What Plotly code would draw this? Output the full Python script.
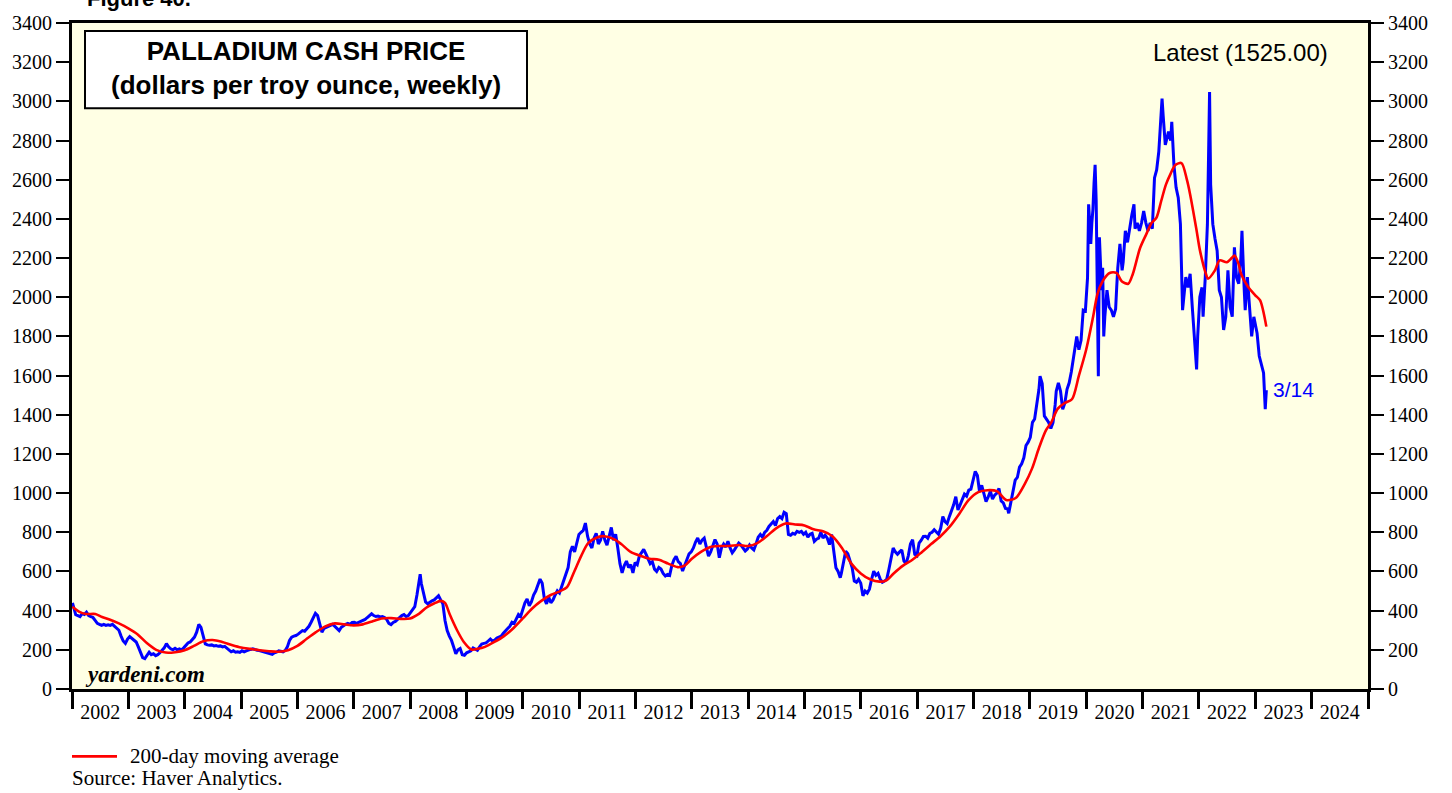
import plotly.graph_objects as go

# ---------------- data ----------------
price_dates = [
"2002-01-04","2002-01-11","2002-01-25","2002-02-08","2002-02-22","2002-03-08","2002-03-22","2002-04-05","2002-04-19","2002-05-03",
"2002-05-17","2002-05-31","2002-06-14","2002-06-28","2002-07-12","2002-07-26","2002-08-09","2002-08-23","2002-09-06","2002-09-20",
"2002-10-04","2002-10-18","2002-11-01","2002-11-15","2002-11-29","2002-12-13","2002-12-27","2003-01-10","2003-01-24","2003-02-07",
"2003-02-21","2003-03-07","2003-03-21","2003-04-04","2003-04-18","2003-05-02","2003-05-16","2003-05-30","2003-06-13","2003-06-27",
"2003-07-11","2003-07-25","2003-08-08","2003-08-22","2003-09-05","2003-09-19","2003-10-03","2003-10-17","2003-10-31","2003-11-14",
"2003-11-28","2003-12-12","2003-12-26","2004-01-09","2004-01-23","2004-02-06","2004-02-20","2004-03-05","2004-03-19","2004-04-02",
"2004-04-16","2004-04-30","2004-05-14","2004-05-28","2004-06-11","2004-06-25","2004-07-09","2004-07-23","2004-08-06","2004-08-20",
"2004-09-03","2004-09-17","2004-10-01","2004-10-15","2004-10-29","2004-11-12","2004-11-26","2004-12-10","2004-12-24","2005-01-07",
"2005-01-21","2005-02-04","2005-02-18","2005-03-04","2005-03-18","2005-04-01","2005-04-15","2005-04-29","2005-05-13","2005-05-27",
"2005-06-10","2005-06-24","2005-07-08","2005-07-22","2005-08-05","2005-08-19","2005-09-02","2005-09-16","2005-09-30","2005-10-14",
"2005-10-28","2005-11-11","2005-11-25","2005-12-09","2005-12-23","2006-01-06","2006-01-20","2006-02-03","2006-02-17","2006-03-03",
"2006-03-17","2006-03-31","2006-04-14","2006-04-28","2006-05-12","2006-05-26","2006-06-09","2006-06-23","2006-07-07","2006-07-21",
"2006-08-04","2006-08-18","2006-09-01","2006-09-15","2006-09-29","2006-10-13","2006-10-27","2006-11-10","2006-11-24","2006-12-08",
"2006-12-22","2007-01-05","2007-01-19","2007-02-02","2007-02-16","2007-03-02","2007-03-16","2007-03-30","2007-04-13","2007-04-27",
"2007-05-11","2007-05-25","2007-06-08","2007-06-22","2007-07-06","2007-07-20","2007-08-03","2007-08-17","2007-08-31","2007-09-14",
"2007-09-28","2007-10-12","2007-10-26","2007-11-09","2007-11-23","2007-12-07","2007-12-21","2008-01-04","2008-01-18","2008-02-01",
"2008-02-15","2008-02-29","2008-03-07","2008-03-14","2008-03-28","2008-04-11","2008-04-25","2008-05-09","2008-05-23","2008-06-06",
"2008-06-20","2008-07-04","2008-07-18","2008-08-01","2008-08-15","2008-08-29","2008-09-12","2008-09-26","2008-10-10","2008-10-24",
"2008-11-07","2008-11-21","2008-12-05","2008-12-19","2009-01-02","2009-01-16","2009-01-30","2009-02-13","2009-02-27","2009-03-13",
"2009-03-27","2009-04-10","2009-04-24","2009-05-08","2009-05-22","2009-06-05","2009-06-19","2009-07-03","2009-07-17","2009-07-31",
"2009-08-14","2009-08-28","2009-09-11","2009-09-25","2009-10-09","2009-10-23","2009-11-06","2009-11-20","2009-12-04","2009-12-18",
"2010-01-01","2010-01-15","2010-01-29","2010-02-12","2010-02-26","2010-03-12","2010-03-26","2010-04-09","2010-04-23","2010-05-07",
"2010-05-21","2010-06-04","2010-06-18","2010-07-02","2010-07-16","2010-07-30","2010-08-13","2010-08-27","2010-09-10","2010-09-24",
"2010-10-08","2010-10-22","2010-11-05","2010-11-19","2010-12-03","2010-12-17","2010-12-31","2011-01-14","2011-01-28","2011-02-11",
"2011-02-25","2011-03-11","2011-03-25","2011-04-08","2011-04-22","2011-05-06","2011-05-20","2011-06-03","2011-06-17","2011-07-01",
"2011-07-15","2011-07-29","2011-08-12","2011-08-26","2011-09-09","2011-09-23","2011-10-07","2011-10-21","2011-11-04","2011-11-18",
"2011-12-02","2011-12-16","2011-12-30","2012-01-13","2012-01-27","2012-02-10","2012-02-24","2012-03-09","2012-03-23","2012-04-06",
"2012-04-20","2012-05-04","2012-05-18","2012-06-01","2012-06-15","2012-06-29","2012-07-13","2012-07-27","2012-08-10","2012-08-24",
"2012-09-07","2012-09-21","2012-10-05","2012-10-19","2012-11-02","2012-11-16","2012-11-30","2012-12-14","2012-12-28","2013-01-11",
"2013-01-25","2013-02-08","2013-02-22","2013-03-08","2013-03-22","2013-04-05","2013-04-19","2013-05-03","2013-05-17","2013-05-31",
"2013-06-14","2013-06-28","2013-07-12","2013-07-26","2013-08-09","2013-08-23","2013-09-06","2013-09-20","2013-10-04","2013-10-18",
"2013-11-01","2013-11-15","2013-11-29","2013-12-13","2013-12-27","2014-01-10","2014-01-24","2014-02-07","2014-02-21","2014-03-07",
"2014-03-21","2014-04-04","2014-04-18","2014-05-02","2014-05-16","2014-05-30","2014-06-13","2014-06-27","2014-07-11","2014-07-25",
"2014-08-08","2014-08-22","2014-09-05","2014-09-19","2014-10-03","2014-10-17","2014-10-31","2014-11-14","2014-11-28","2014-12-12",
"2014-12-26","2015-01-09","2015-01-23","2015-02-06","2015-02-20","2015-03-06","2015-03-20","2015-04-03","2015-04-17","2015-05-01",
"2015-05-15","2015-05-29","2015-06-12","2015-06-26","2015-07-10","2015-07-24","2015-08-07","2015-08-21","2015-08-28","2015-09-04",
"2015-09-11","2015-09-25","2015-10-09","2015-10-23","2015-11-06","2015-11-20","2015-12-04","2015-12-18","2016-01-01","2016-01-15",
"2016-01-29","2016-02-12","2016-02-26","2016-03-11","2016-03-25","2016-04-08","2016-04-22","2016-05-06","2016-05-20","2016-06-03",
"2016-06-17","2016-07-01","2016-07-15","2016-07-29","2016-08-12","2016-08-26","2016-09-09","2016-09-23","2016-10-07","2016-10-21",
"2016-11-04","2016-11-18","2016-12-02","2016-12-16","2016-12-30","2017-01-13","2017-01-27","2017-02-10","2017-02-24","2017-03-10",
"2017-03-24","2017-04-07","2017-04-21","2017-05-05","2017-05-19","2017-06-02","2017-06-16","2017-06-30","2017-07-14","2017-07-28",
"2017-08-11","2017-08-25","2017-09-08","2017-09-22","2017-10-06","2017-10-20","2017-11-03","2017-11-17","2017-12-01","2017-12-15",
"2017-12-29","2018-01-12","2018-01-26","2018-02-09","2018-02-23","2018-03-09","2018-03-23","2018-04-06","2018-04-20","2018-05-04",
"2018-05-18","2018-06-01","2018-06-15","2018-06-29","2018-07-13","2018-07-27","2018-08-10","2018-08-17","2018-08-31","2018-09-14",
"2018-09-28","2018-10-12","2018-10-26","2018-11-09","2018-11-23","2018-12-07","2018-12-21","2019-01-04","2019-01-18","2019-02-01",
"2019-02-15","2019-03-01","2019-03-08","2019-03-22","2019-04-05","2019-04-19","2019-05-03","2019-05-17","2019-05-31","2019-06-14",
"2019-06-21","2019-07-05","2019-07-19","2019-08-02","2019-08-16","2019-08-30","2019-09-13","2019-09-27","2019-10-11","2019-10-25",
"2019-11-01","2019-11-15","2019-11-29","2019-12-13","2019-12-27","2020-01-10","2020-01-17","2020-01-24","2020-01-31","2020-02-07",
"2020-02-14","2020-02-21","2020-02-28","2020-03-06","2020-03-13","2020-03-20","2020-03-27","2020-04-03","2020-04-10","2020-04-17",
"2020-04-24","2020-05-01","2020-05-15","2020-05-29","2020-06-12","2020-06-26","2020-07-10","2020-07-17","2020-07-24","2020-08-07",
"2020-08-21","2020-08-28","2020-09-11","2020-09-25","2020-10-09","2020-10-23","2020-11-06","2020-11-13","2020-11-27","2020-12-11",
"2020-12-25","2021-01-08","2021-01-22","2021-02-05","2021-02-19","2021-03-05","2021-03-19","2021-04-02","2021-04-16","2021-04-30",
"2021-05-07","2021-05-14","2021-05-28","2021-06-04","2021-06-18","2021-07-02","2021-07-09","2021-07-23","2021-08-06","2021-08-20",
"2021-09-03","2021-09-17","2021-09-24","2021-10-08","2021-10-22","2021-11-05","2021-11-19","2021-12-03","2021-12-17","2021-12-24",
"2022-01-07","2022-01-21","2022-01-28","2022-02-11","2022-02-25","2022-03-04","2022-03-11","2022-03-18","2022-04-01","2022-04-15",
"2022-04-29","2022-05-13","2022-05-27","2022-06-10","2022-06-24","2022-07-08","2022-07-22","2022-08-05","2022-08-19","2022-09-02",
"2022-09-16","2022-09-30","2022-10-07","2022-10-21","2022-10-28","2022-11-11","2022-11-25","2022-12-09","2022-12-23","2023-01-13",
"2023-01-27","2023-02-10","2023-02-24","2023-03-07","2023-03-14",
]
price_values = [
440,420,380,375,370,385,380,392,375,370,
365,350,335,330,325,330,325,328,325,330,
320,315,300,270,245,233,255,268,260,250,
240,215,185,160,155,170,188,175,180,170,
175,185,200,210,232,215,205,200,208,200,
205,200,210,225,235,240,250,265,290,330,
315,265,230,225,223,225,220,222,218,220,
215,218,210,200,190,195,188,190,187,195,
190,195,200,202,205,200,198,196,193,190,
187,185,180,177,185,188,195,192,190,197,
215,248,265,270,273,280,290,298,295,305,
320,341,365,386,375,330,290,310,315,320,
324,330,320,310,298,315,325,330,335,330,
340,341,335,340,345,350,355,365,375,384,
375,370,372,368,370,365,355,335,329,340,
345,355,370,375,380,370,375,390,400,420,
480,545,586,540,485,445,435,445,450,455,
467,476,455,435,350,298,270,248,214,180,
200,207,175,172,185,189,195,210,205,198,
215,230,233,235,245,255,245,250,260,265,
270,285,300,309,320,341,335,360,380,370,
410,440,460,425,445,480,500,530,561,540,
460,435,470,440,455,480,501,490,520,560,
586,620,700,729,700,750,789,800,810,847,
780,740,720,770,795,740,760,805,760,735,
780,825,760,790,720,640,593,630,653,620,
635,593,645,635,680,700,713,690,665,640,
650,612,600,620,612,590,577,585,580,630,
660,678,650,640,602,630,665,690,700,720,
750,771,740,760,770,720,678,700,730,763,
740,670,720,740,725,754,720,695,710,730,
745,735,720,705,715,735,720,710,740,775,
789,775,800,810,830,840,855,835,870,880,
870,902,895,789,785,795,790,805,800,805,
790,800,775,790,795,754,765,770,800,771,
785,770,737,789,688,619,600,568,590,620,
660,703,690,660,620,551,545,560,540,476,
500,490,510,560,602,580,590,561,545,551,
560,610,660,720,700,688,700,710,653,640,
680,740,762,687,680,745,760,779,780,770,
795,800,813,800,790,820,880,855,845,880,
910,940,982,914,940,970,995,985,1015,1020,
1060,1111,1090,1007,1040,990,956,980,1010,970,
990,1000,1024,960,950,922,920,897,960,1020,
1066,1080,1133,1150,1180,1243,1260,1285,1361,1378,
1450,1530,1597,1560,1394,1380,1361,1330,1360,1450,
1520,1563,1520,1428,1460,1530,1563,1620,1698,1760,
1800,1732,1780,1934,1930,2100,2474,2380,2272,2380,
2450,2580,2676,2491,1900,1597,2306,2200,2036,2150,
1800,1900,2036,1950,1934,1900,1940,2050,2150,2272,
2137,2180,2339,2280,2356,2420,2474,2350,2380,2339,
2380,2440,2380,2339,2380,2350,2609,2650,2744,2900,
3014,2930,2778,2800,2845,2800,2896,2676,2560,2508,
2373,1934,2000,2103,2050,2120,1950,1766,1631,1800,
2002,2050,1901,2100,2373,2700,3048,2575,2373,2300,
2238,2036,2000,1833,1900,2137,1950,1901,2255,2100,
2069,2200,2339,2050,1934,2103,1950,1800,1900,1816,
1700,1648,1614,1428,1525,
]

ma_dates = [
"2002-01-04","2002-02-15","2002-04-01","2002-06-01","2002-07-15","2002-09-01","2002-11-01","2003-01-01","2003-03-01","2003-05-01",
"2003-07-01","2003-09-01","2003-11-01","2004-01-01","2004-03-01","2004-05-01","2004-07-01","2004-09-01","2004-11-01","2005-01-01",
"2005-03-01","2005-05-01","2005-07-01","2005-09-01","2005-11-01","2006-01-01","2006-03-01","2006-05-01","2006-07-01","2006-09-01",
"2006-11-01","2007-01-01","2007-03-01","2007-05-01","2007-07-01","2007-09-01","2007-11-01","2008-01-01","2008-03-01","2008-04-15",
"2008-06-01","2008-07-20","2008-08-15","2008-09-15","2008-11-01","2008-12-15","2009-02-01","2009-03-15","2009-05-01","2009-07-01",
"2009-09-01","2009-11-01","2010-01-01","2010-03-01","2010-05-01","2010-07-01","2010-09-01","2010-10-15","2010-12-01","2011-01-15",
"2011-03-01","2011-05-01","2011-06-15","2011-08-15","2011-10-01","2011-12-01","2012-02-01","2012-04-01","2012-06-01","2012-08-01",
"2012-10-01","2012-11-15","2013-01-01","2013-03-01","2013-05-01","2013-07-01","2013-09-01","2013-11-01","2014-01-01","2014-03-01",
"2014-05-01","2014-07-01","2014-09-01","2014-11-01","2015-01-01","2015-03-01","2015-05-01","2015-07-01","2015-09-01","2015-11-01",
"2016-01-01","2016-03-01","2016-05-01","2016-06-15","2016-08-01","2016-10-01","2016-12-01","2017-02-01","2017-04-01","2017-06-01",
"2017-08-01","2017-10-01","2017-12-01","2018-02-01","2018-04-01","2018-06-01","2018-08-01","2018-10-01","2018-12-01","2019-01-15",
"2019-03-01","2019-04-15","2019-05-20","2019-06-30","2019-08-15","2019-10-01","2019-11-15","2020-01-01","2020-02-15","2020-03-15",
"2020-04-20","2020-06-01","2020-07-15","2020-08-20","2020-09-30","2020-10-30","2020-12-15","2021-01-25","2021-03-01","2021-04-01",
"2021-05-01","2021-06-01","2021-07-01","2021-08-01","2021-09-10","2021-10-15","2021-11-05","2021-12-15","2022-01-08","2022-02-15",
"2022-03-01","2022-04-15","2022-05-15","2022-07-01","2022-08-01","2022-08-20","2022-09-15","2022-10-01","2022-11-15","2023-01-01",
"2023-02-01","2023-03-14",
]
ma_values = [
420,395,383,383,368,355,335,310,280,235,
200,186,188,198,220,244,250,240,225,212,
205,198,193,190,198,220,255,290,320,335,
330,325,330,345,360,362,358,360,385,415,
435,450,440,380,300,240,202,205,215,240,
270,310,360,410,450,480,500,520,600,680,
745,775,780,765,740,700,680,665,660,640,
622,630,665,700,725,730,730,735,730,745,
780,820,845,840,835,815,805,780,720,640,
590,560,548,555,590,630,660,700,740,780,
830,895,965,1005,1015,1010,965,975,1050,1125,
1230,1320,1361,1430,1460,1479,1600,1732,1900,2019,
2086,2124,2124,2080,2069,2120,2250,2322,2380,2407,
2490,2575,2630,2675,2685,2600,2525,2350,2238,2120,
2095,2137,2188,2179,2200,2213,2170,2120,2053,2010,
1985,1850,
]

y_ticks = list(range(0, 3401, 200))
x_range = ["2002-01-01", "2025-01-01"]
latest_label = "Latest (1525.00)"
last_date_label = "3/14"

# ---------------- layout helpers ----------------
W, H = 1452, 793
L, R, T, B = 72, 1368, 17, 689


def px(x):
    return (x - L) / (R - L)


def py(y):
    return (B - y) / (B - T)


SERIF = "Liberation Serif"
SANS = "Liberation Sans"

fig = go.Figure()
fig.add_trace(go.Scatter(
    x=price_dates, y=price_values, mode="lines",
    line=dict(color="#0000FF", width=3), name="Palladium", showlegend=False,
))
fig.add_trace(go.Scatter(
    x=ma_dates, y=ma_values, mode="lines", yaxis="y2",
    line=dict(color="#FF0000", width=2.6, shape="spline", smoothing=0.8),
    name="200-day moving average", showlegend=False,
))

axis_common = dict(
    range=[0, 3400], tickvals=y_ticks, ticks="outside", ticklen=13, tickwidth=1.5,
    tickcolor="black", showgrid=False, zeroline=False, showline=True,
    linecolor="black", linewidth=3, tickfont=dict(family=SERIF, size=20, color="black"),
    fixedrange=True,
)

fig.update_layout(
    width=W, height=H,
    margin=dict(l=L, r=W - R, t=T, b=H - B),
    paper_bgcolor="white", plot_bgcolor="#FFFFE4",
    font=dict(family=SERIF, color="black"),
    xaxis=dict(
        type="date", range=x_range, dtick="M12", tick0="2002-01-01",
        tickformat="%Y", ticklabelmode="period", ticks="outside", ticklen=17,
        tickwidth=2.5, tickcolor="black", showgrid=False, zeroline=False,
        showline=True, mirror=True, linecolor="black", linewidth=3,
        tickfont=dict(family=SERIF, size=20, color="black"),
        ticklabelstandoff=-14, fixedrange=True,
    ),
    yaxis=dict(side="left", **axis_common),
    yaxis2=dict(side="right", overlaying="y", **axis_common),
)

# Title box
fig.add_shape(type="rect", xref="paper", yref="paper",
              x0=px(85), x1=px(527), y0=py(103), y1=py(25),
              line=dict(color="black", width=2), fillcolor="white", layer="above")
fig.add_annotation(xref="paper", yref="paper", x=px(306), y=py(62),
                   text="<b>PALLADIUM CASH PRICE<br>(dollars per troy ounce, weekly)</b>",
                   showarrow=False, font=dict(family=SANS, size=26, color="black"),
                   xanchor="center", yanchor="middle", align="center")

# Figure label (cut at top edge, as in the reference)
fig.add_annotation(xref="paper", yref="paper", x=px(85), y=py(7),
                   text="<b>Figure 40.</b>", showarrow=False,
                   font=dict(family=SANS, size=22, color="black"),
                   xanchor="left", yanchor="bottom")

fig.add_annotation(xref="paper", yref="paper", x=px(1240), y=py(47),
                   text=latest_label, showarrow=False,
                   font=dict(family=SANS, size=24, color="black"),
                   xanchor="center", yanchor="middle")

fig.add_annotation(xref="paper", yref="paper", x=px(1271), y=py(387),
                   text=last_date_label, showarrow=False,
                   font=dict(family=SANS, size=21, color="#0000FF"),
                   xanchor="left", yanchor="middle")

fig.add_annotation(xref="paper", yref="paper", x=px(83), y=py(674),
                   text="<b><i>yardeni.com</i></b>", showarrow=False,
                   font=dict(family=SERIF, size=23, color="black"),
                   xanchor="left", yanchor="middle")

# Legend & source below
fig.add_shape(type="line", xref="paper", yref="paper",
              x0=px(72), x1=px(117), y0=py(757), y1=py(757),
              line=dict(color="#FF0000", width=2.6))
fig.add_annotation(xref="paper", yref="paper", x=px(128), y=py(757),
                   text="200-day moving average", showarrow=False,
                   font=dict(family=SERIF, size=21, color="black"),
                   xanchor="left", yanchor="middle")
fig.add_annotation(xref="paper", yref="paper", x=px(70), y=py(779),
                   text="Source: Haver Analytics.", showarrow=False,
                   font=dict(family=SERIF, size=21, color="black"),
                   xanchor="left", yanchor="middle")

fig.write_html(
    "out.html",
    config={"displayModeBar": False},
    post_script="document.body.style.margin='0';document.body.style.overflow='hidden';",
)
